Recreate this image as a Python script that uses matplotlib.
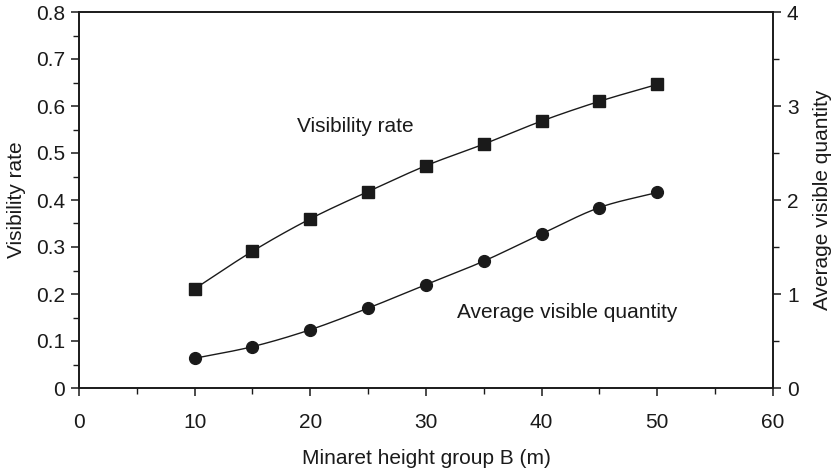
import matplotlib
matplotlib.use("Agg")
import matplotlib.pyplot as plt
from matplotlib.ticker import MultipleLocator
import numpy as np

plt.rcParams['font.family'] = ['Liberation Sans', 'DejaVu Sans']

heights = [10, 15, 20, 25, 30, 35, 40, 45, 50]
visibility_rate = [0.211, 0.291, 0.360, 0.418, 0.473, 0.519, 0.568, 0.610, 0.646]
avg_visible_qty = [0.316, 0.44, 0.62, 0.85, 1.10, 1.35, 1.64, 1.92, 2.08]
left_ticks = [0, 0.1, 0.2, 0.3, 0.4, 0.5, 0.6, 0.7, 0.8]
left_labels = ["0", "0.1", "0.2", "0.3", "0.4", "0.5", "0.6", "0.7", "0.8"]


def smooth(x, y, n=20):
    # Catmull-Rom curve through the data points (for line drawing only)
    x = np.asarray(x, float); y = np.asarray(y, float)
    px = np.concatenate([[2*x[0]-x[1]], x, [2*x[-1]-x[-2]]])
    py = np.concatenate([[2*y[0]-y[1]], y, [2*y[-1]-y[-2]]])
    xs, ys = [], []
    t = np.linspace(0, 1, n, endpoint=False)
    for i in range(1, len(px)-2):
        for arr, out in ((px, xs), (py, ys)):
            p0, p1, p2, p3 = arr[i-1], arr[i], arr[i+1], arr[i+2]
            out.extend(0.5*((2*p1) + (-p0+p2)*t + (2*p0-5*p1+4*p2-p3)*t**2 + (-p0+3*p1-3*p2+p3)*t**3))
    xs.append(x[-1]); ys.append(y[-1])
    return np.array(xs), np.array(ys)


fig = plt.figure(figsize=(8.37, 4.72), dpi=100)
ax = fig.add_axes([79/837, 1-388/472, (773-79)/837, (388-12)/472])
ax2 = ax.twinx()

fs = 15
col = '#1a1a1a'
sx, sy = smooth(heights, visibility_rate)
ax.plot(sx, sy, color=col, lw=1.0)
ax.plot(heights, visibility_rate, ls='none', marker='s', ms=8.5, color=col)
cx, cy = smooth(heights, avg_visible_qty)
ax2.plot(cx, cy, color=col, lw=1.0)
ax2.plot(heights, avg_visible_qty, ls='none', marker='o', ms=8.5, color=col)

ax.set_xlim(0, 60)
ax.set_ylim(0, 0.8)
ax2.set_ylim(0, 4)
ax.xaxis.set_major_locator(MultipleLocator(10))
ax.xaxis.set_minor_locator(MultipleLocator(5))
ax.set_yticks(left_ticks)
ax.set_yticklabels(left_labels)
ax.yaxis.set_minor_locator(MultipleLocator(0.05))
ax2.yaxis.set_major_locator(MultipleLocator(1))
ax2.yaxis.set_minor_locator(MultipleLocator(0.5))

for a in (ax, ax2):
    for s in a.spines.values():
        s.set_linewidth(1.2)
        s.set_color(col)
    a.tick_params(which='major', direction='out', length=6, width=1.1, labelsize=fs, colors=col, pad=4)
    a.tick_params(which='minor', direction='out', length=4, width=1.0, colors=col)
ax.tick_params(axis='x', which='major', pad=12)

ax.set_xlabel('Minaret height group B (m)', fontsize=fs, color=col, labelpad=12)
ax.set_ylabel('Visibility rate', fontsize=fs, color=col, labelpad=7)
ax2.set_ylabel('Average visible quantity', fontsize=fs, color=col, labelpad=10)

ax.text(23.9, 0.556, 'Visibility rate', fontsize=fs, ha='center', va='center', color=col)
ax2.text(42.2, 0.80, 'Average visible quantity', fontsize=fs, ha='center', va='center', color=col)

fig.savefig('out.png', dpi=100)
